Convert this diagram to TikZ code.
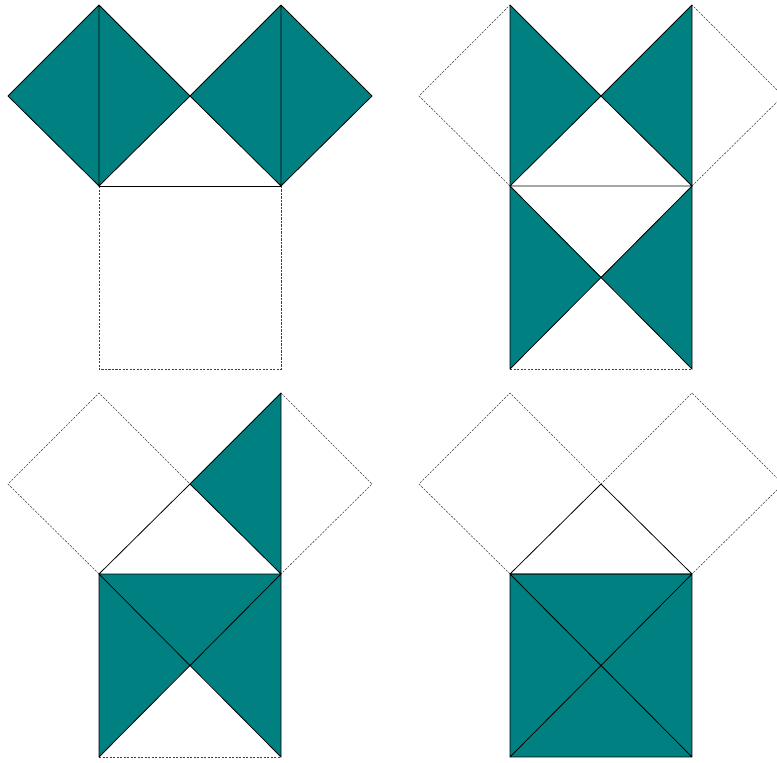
\documentclass[tikz,border=0pt]{standalone}
\definecolor{tealfill}{RGB}{0,128,128}
\tikzset{
  tfill/.style={fill=tealfill},
  sline/.style={draw=black,line width=0.8pt,line join=round,line cap=round},
  dline/.style={draw=black!75,line width=0.55pt,dash pattern=on 2.2pt off 1.3pt},
}
\newcommand\mypts{%
  \coordinate (B) at (0,0);
  \coordinate (A) at (91,-90);
  \coordinate (C) at (182,0);
  \coordinate (LT) at (0,-181);
  \coordinate (LL) at (-91,-90);
  \coordinate (RT) at (182,-181);
  \coordinate (RR) at (273,-90);
  \coordinate (BL) at (0,183);
  \coordinate (BR) at (182,183);
  \coordinate (M) at (91,91);
}
\begin{document}
\begin{tikzpicture}[x=1pt,y=-1pt]
\useasboundingbox (0,0) rectangle (777,763);
\clip (0,0) rectangle (777,763);
% Panel 1
\begin{scope}[shift={(99,186)}]
\mypts
\fill[tfill] (B)--(A)--(LT)--(LL)--cycle;
\fill[tfill] (A)--(RT)--(RR)--(C)--cycle;
\draw[dline] (B)--(BL)--(BR)--(C);
\draw[sline] (LL)--(LT)--(A)--(B)--cycle (LT)--(B);
\draw[sline] (A)--(RT)--(RR)--(C)--cycle (RT)--(C);
\draw[sline] (B)--(C);
\end{scope}
% Panel 2
\begin{scope}[shift={(510,186)}]
\mypts
\fill[tfill] (LT)--(A)--(B)--cycle;
\fill[tfill] (RT)--(A)--(C)--cycle;
\fill[tfill] (B)--(M)--(BL)--cycle;
\fill[tfill] (C)--(M)--(BR)--cycle;
\draw[dline] (B)--(LL)--(LT);
\draw[dline] (C)--(RR)--(RT);
\draw[dline] (BL)--(BR);
\draw[sline] (B)--(LT)--(A)--(RT)--(C);
\draw[sline] (B)--(A)--(C)--cycle;
\draw[sline] (B)--(BL) (C)--(BR) (B)--(BR) (C)--(BL);
\end{scope}
% Panel 3
\begin{scope}[shift={(99,574)}]
\mypts
\fill[tfill] (A)--(RT)--(C)--cycle;
\fill[tfill] (B)--(C)--(M)--cycle;
\fill[tfill] (B)--(M)--(BL)--cycle;
\fill[tfill] (C)--(M)--(BR)--cycle;
\draw[dline] (B)--(LL)--(LT)--(A);
\draw[dline] (RT)--(RR)--(C);
\draw[dline] (BL)--(BR);
\draw[sline] (B)--(A)--(RT)--(C)--cycle (A)--(C);
\draw[sline] (B)--(BL) (C)--(BR) (B)--(BR) (C)--(BL);
\end{scope}
% Panel 4
\begin{scope}[shift={(510,574)}]
\mypts
\fill[tfill] (B)--(C)--(BR)--(BL)--cycle;
\draw[dline] (B)--(LL)--(LT)--(A)--(RT)--(RR)--(C);
\draw[sline] (B)--(A)--(C)--cycle;
\draw[sline] (B)--(C)--(BR)--(BL)--cycle (B)--(BR) (C)--(BL);
\end{scope}
\end{tikzpicture}
\end{document}
